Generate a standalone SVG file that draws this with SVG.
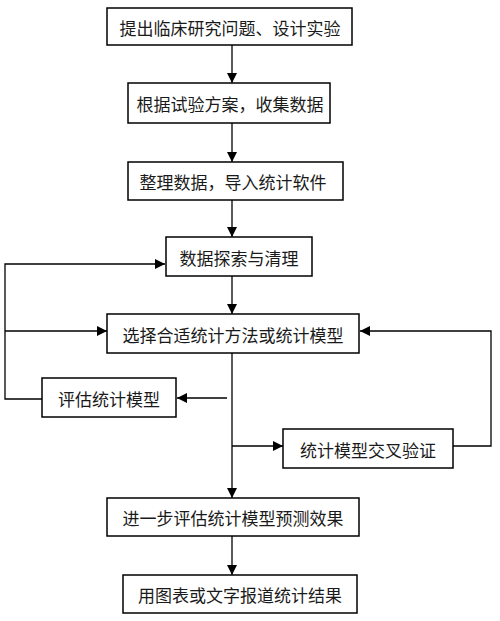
<svg xmlns="http://www.w3.org/2000/svg" width="500" height="621" viewBox="0 0 500 621">
<style>
.b{fill:#fff;stroke:#000;stroke-width:1.5}
.t{font-family:"Noto Sans CJK SC","Liberation Sans",sans-serif;font-size:17px;fill:#1a1a1a;text-anchor:middle;dominant-baseline:central}
.c{fill:none;stroke:#000;stroke-width:1.3}
</style>
<defs>
<marker id="a" viewBox="0 0 10 10" refX="10" refY="5" markerWidth="10" markerHeight="10" markerUnits="userSpaceOnUse" orient="auto">
<path d="M0,0 L10,5 L0,10 z" fill="#000"/>
</marker>
</defs>
<rect width="500" height="621" fill="#fff"/>
<g id="connectors">
<path class="c" d="M232,45 V83" marker-end="url(#a)"/>
<path class="c" d="M232,123 V162" marker-end="url(#a)"/>
<path class="c" d="M232,200 V237" marker-end="url(#a)"/>
<path class="c" d="M232,276 V314" marker-end="url(#a)"/>
<path class="c" d="M232,353 V498" marker-end="url(#a)"/>
<path class="c" d="M232,536 V575" marker-end="url(#a)"/>
<path class="c" d="M227,398 H177" marker-end="url(#a)"/>
<path class="c" d="M42,399 H5 V264 H165" marker-end="url(#a)"/>
<path class="c" d="M5,331 H107" marker-end="url(#a)"/>
<path class="c" d="M232,446 H283" marker-end="url(#a)"/>
<path class="c" d="M453,446 H491 V331 H360" marker-end="url(#a)"/>
</g>
<g id="n1"><rect class="b" x="107" y="8" width="245" height="37"/><text class="t" x="230" y="27">提出临床研究问题、设计实验</text></g>
<g id="n2"><rect class="b" x="128" y="83" width="202" height="40"/><text class="t" x="230" y="103">根据试验方案，收集数据</text></g>
<g id="n3"><rect class="b" x="128" y="162" width="215" height="38"/><text class="t" x="233" y="181">整理数据，导入统计软件</text></g>
<g id="n4"><rect class="b" x="166" y="237" width="146" height="39"/><text class="t" x="239" y="257">数据探索与清理</text></g>
<g id="n5"><rect class="b" x="107" y="314" width="252" height="39"/><text class="t" x="233" y="334">选择合适统计方法或统计模型</text></g>
<g id="n6"><rect class="b" x="42" y="378" width="134" height="39"/><text class="t" x="109" y="398">评估统计模型</text></g>
<g id="n7"><rect class="b" x="283" y="429" width="170" height="39"/><text class="t" x="368" y="449">统计模型交叉验证</text></g>
<g id="n8"><rect class="b" x="107" y="498" width="252" height="38"/><text class="t" x="233" y="517">进一步评估统计模型预测效果</text></g>
<g id="n9"><rect class="b" x="123" y="575" width="234" height="38"/><text class="t" x="240" y="594">用图表或文字报道统计结果</text></g>
</svg>
